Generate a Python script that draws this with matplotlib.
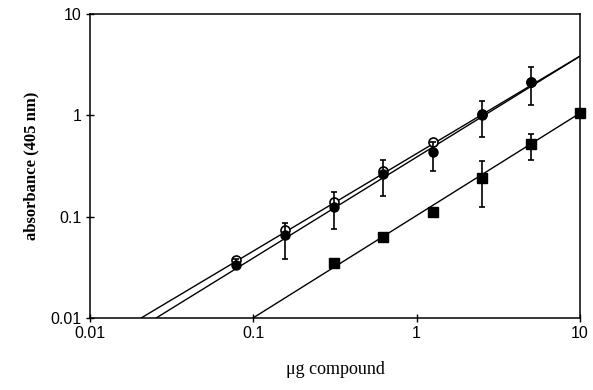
import numpy as np
import matplotlib
matplotlib.use("Agg")
import matplotlib.pyplot as plt

# doubling dilutions (ug compound)
dose = [0.078, 0.156, 0.3125, 0.625, 1.25, 2.5, 5.0, 10.0]

# open circles
open_x = [0.078, 0.156, 0.3125, 0.625, 1.25, 2.5, 5.0]
open_y = [0.0375, 0.074, 0.14, 0.28, 0.55, 1.02, 2.12]

# filled circles with error bars
fill_x = [0.078, 0.156, 0.3125, 0.625, 1.25, 2.5, 5.0]
fill_y = [0.0335, 0.066, 0.125, 0.265, 0.43, 1.0, 2.12]
fill_lo = [0.031, 0.0384, 0.076, 0.158, 0.285, 0.605, 1.26]
fill_hi = [0.038, 0.0872, 0.173, 0.36, 0.55, 1.38, 2.98]

# filled squares with error bars
sq_x = [0.3125, 0.625, 1.25, 2.5, 5.0, 10.0]
sq_y = [0.035, 0.063, 0.112, 0.243, 0.517, 1.05]
sq_lo = [0.035, 0.063, 0.112, 0.123, 0.366, 1.05]
sq_hi = [0.035, 0.063, 0.112, 0.357, 0.66, 1.05]

# fitted lines: (slope, value at x=1) in log-log
fit_open = (0.962, 0.419)
fit_fill = (0.996, 0.387)
fit_sq = (1.01, 0.1026)

fig = plt.figure(figsize=(5.93, 3.90), dpi=100)
ax = fig.add_axes([0.152, 0.185, 0.826, 0.779])
ax.set_xscale('log')
ax.set_yscale('log')
ax.set_xlim(0.01, 10)
ax.set_ylim(0.01, 10)

for slope, a in (fit_open, fit_fill, fit_sq):
    x0 = (0.01 / a) ** (1.0 / slope)
    xs = np.array([x0, 10.0])
    ax.plot(xs, a * xs ** slope, color='black', lw=1.0, zorder=2)

ax.plot(open_x, open_y, 'o', mfc='white', mec='black', mew=1.2, ms=6.5, zorder=3)
ax.errorbar(fill_x, fill_y,
            yerr=[np.array(fill_y) - np.array(fill_lo), np.array(fill_hi) - np.array(fill_y)],
            fmt='o', color='black', ms=6.5, elinewidth=1.2, capsize=2.5, capthick=1.2, zorder=4)
eb = ax.errorbar(sq_x, sq_y,
                 yerr=[np.array(sq_y) - np.array(sq_lo), np.array(sq_hi) - np.array(sq_y)],
                 fmt='s', color='black', ms=6.5, elinewidth=1.2, capsize=2.5, capthick=1.2, zorder=4)
eb[0].set_clip_on(False)

ticks = [0.01, 0.1, 1, 10]
labels = ['0.01', '0.1', '1', '10']
ax.set_xticks(ticks)
ax.set_xticklabels(labels)
ax.set_yticks(ticks)
ax.set_yticklabels(labels)
ax.minorticks_off()
ax.tick_params(direction='inout', length=6, width=1, labelsize=11.5, pad=3)
for lab in ax.get_xticklabels() + ax.get_yticklabels():
    lab.set_family('Liberation Sans')
for sp in ax.spines.values():
    sp.set_linewidth(1.1)

ax.set_xlabel('\u03bcg compound', family='Liberation Serif', fontsize=13, labelpad=14)
ax.set_ylabel('absorbance (405 nm)', family='Liberation Serif', fontweight='bold', fontsize=12, labelpad=8)

plt.savefig('out.png', dpi=100)
plt.close()
